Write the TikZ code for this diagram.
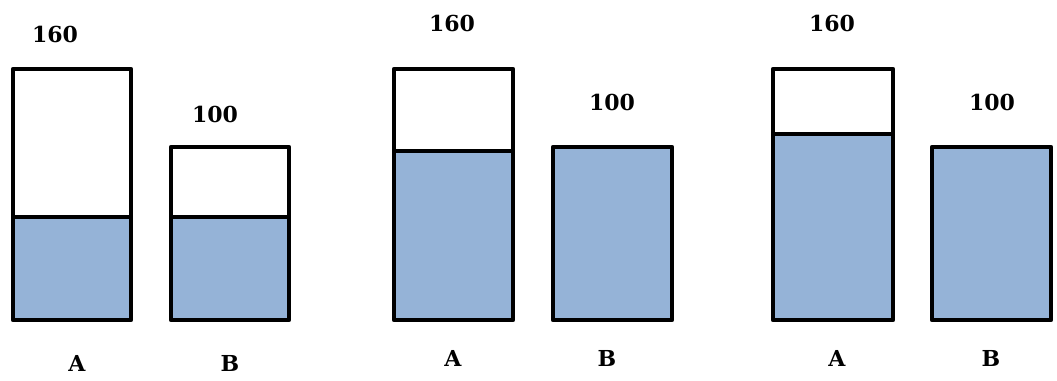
\documentclass[tikz,border=0pt]{standalone}
\usepackage{fontspec}
\setmainfont{DejaVu Serif}
\usepackage{tikz}
\definecolor{water}{RGB}{149, 179, 215}

\begin{document}
\begin{tikzpicture}[
    x=0.75pt, y=-0.75pt,
    tank/.style={draw=black, line width=3.4pt, line join=round},
    level/.style={fill=water},
    lbl/.style={font=\fontsize{16.5}{19}\selectfont\bfseries, text=black, inner sep=0pt}
]
\useasboundingbox (0,0) rectangle (1057,381);

% Stan 1
\fill [level] (13,217) rectangle (131,320);
\fill [level] (171,217) rectangle (289,320);
\draw [tank] (13,69) rectangle (131,320);
\draw [tank] (13,217) -- (131,217);
\draw [tank] (171,147) rectangle (289,320);
\draw [tank] (171,217) -- (289,217);
\node [lbl] (capA1) at (55,34) {160};
\node [lbl] (capB1) at (215,114) {100};
\node [lbl] (nameA1) at (77,363) {A};
\node [lbl] (nameB1) at (230,363) {B};

% Stan 2
\fill [level] (394,151) rectangle (513,320);
\fill [level] (553,147) rectangle (672,320);
\draw [tank] (394,69) rectangle (513,320);
\draw [tank] (394,151) -- (513,151);
\draw [tank] (553,147) rectangle (672,320);
\node [lbl] (capA2) at (452,23) {160};
\node [lbl] (capB2) at (612,102) {100};
\node [lbl] (nameA2) at (453,358) {A};
\node [lbl] (nameB2) at (607,358) {B};

% Stan 3
\fill [level] (773,134) rectangle (893,320);
\fill [level] (932,147) rectangle (1051,320);
\draw [tank] (773,69) rectangle (893,320);
\draw [tank] (773,134) -- (893,134);
\draw [tank] (932,147) rectangle (1051,320);
\node [lbl] (capA3) at (832,23) {160};
\node [lbl] (capB3) at (992,102) {100};
\node [lbl] (nameA3) at (837,358) {A};
\node [lbl] (nameB3) at (991,358) {B};

\end{tikzpicture}
\end{document}
